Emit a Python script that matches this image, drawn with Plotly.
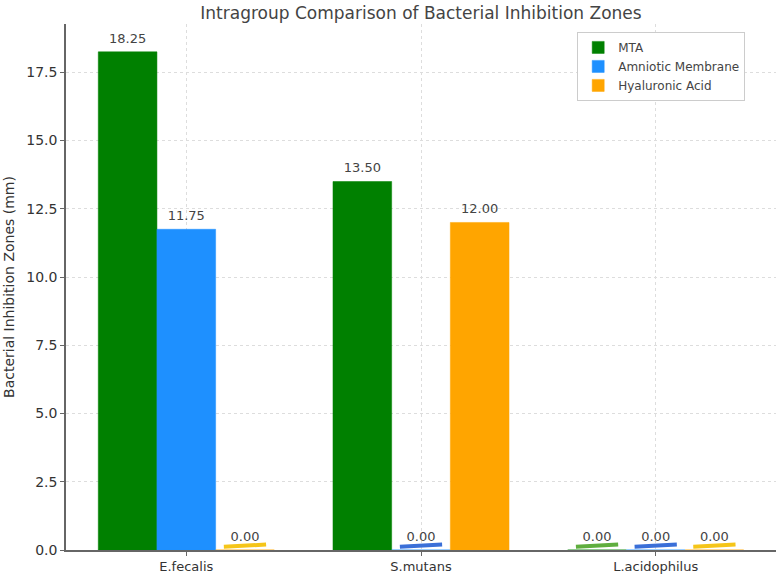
import plotly.graph_objects as go

categories = ["E.fecalis", "S.mutans", "L.acidophilus"]
series_names = ["MTA", "Amniotic Membrane", "Hyaluronic Acid"]
mta = [18.25, 13.50, 0.00]
amniotic = [11.75, 0.00, 0.00]
hyaluronic = [0.00, 12.00, 0.00]
colors = ["#008000", "#1E90FF", "#FFA500"]
zero_colors = ["#5FAE3E", "#3A6FD8", "#F5C518"]

series = [mta, amniotic, hyaluronic]
width = 0.25
offsets = [-width, 0.0, width]
idx = list(range(len(categories)))

fig = go.Figure()
for name, vals, col, off in zip(series_names, series, colors, offsets):
    xs = [i + off for i in idx]
    fig.add_trace(go.Bar(
        x=xs, y=vals, width=width, name=name,
        marker=dict(color=col, line=dict(color=col, width=0.5)),
    ))

# zero-value markers and value labels
for vals, zc, off in zip(series, zero_colors, offsets):
    for i, v in zip(idx, vals):
        if v == 0:
            fig.add_trace(go.Scatter(
                x=[i + off - 0.09, i + off + 0.09], y=[0.12, 0.2],
                mode="lines", line=dict(color=zc, width=4),
                showlegend=False, hoverinfo="skip"))
    fig.add_trace(go.Scatter(
        x=[i + off for i in idx], y=vals, mode="markers+text",
        marker=dict(size=8, opacity=0),
        text=[f"{v:.2f}" for v in vals], textposition="top center",
        textfont=dict(family="DejaVu Sans", size=13, color="#444444"),
        showlegend=False, hoverinfo="skip"))

fig.update_layout(
    width=779, height=577,
    margin=dict(l=66, r=3, t=24, b=22),
    paper_bgcolor="white", plot_bgcolor="white",
    font=dict(family="DejaVu Sans", color="#333333"),
    title=dict(text="Intragroup Comparison of Bacterial Inhibition Zones",
               x=(66 + 776) / 2 / 779, xanchor="center", y=0.978, yanchor="middle",
               font=dict(size=17, color="#444444")),
    barmode="overlay",
    legend=dict(x=0.72, y=0.985, xanchor="left", yanchor="top",
                bordercolor="#cccccc", borderwidth=1, bgcolor="white",
                font=dict(size=12, color="#444444"), traceorder="normal"),
    xaxis=dict(range=[-0.5125, 2.5125], tickvals=idx, ticktext=categories,
               showline=True, linecolor="#666666", linewidth=1.5,
               ticks="outside", ticklen=4, tickcolor="#666666",
               showgrid=True, gridcolor="#dddddd", griddash="dot", gridwidth=1,
               tickfont=dict(size=13, color="#333333"), zeroline=False),
    yaxis=dict(range=[0, 19.27], tickvals=[0, 2.5, 5, 7.5, 10, 12.5, 15, 17.5],
               ticktext=["0.0", "2.5", "5.0", "7.5", "10.0", "12.5", "15.0", "17.5"],
               showline=True, linecolor="#666666", linewidth=1.5,
               ticks="outside", ticklen=4, tickcolor="#666666",
               showgrid=True, gridcolor="#dddddd", griddash="dot", gridwidth=1,
               tickfont=dict(size=14, color="#333333"), zeroline=False,
               title=dict(text="Bacterial Inhibition Zones (mm)", standoff=8,
                          font=dict(size=14, color="#333333"))),
)

fig.write_html("out.html")
